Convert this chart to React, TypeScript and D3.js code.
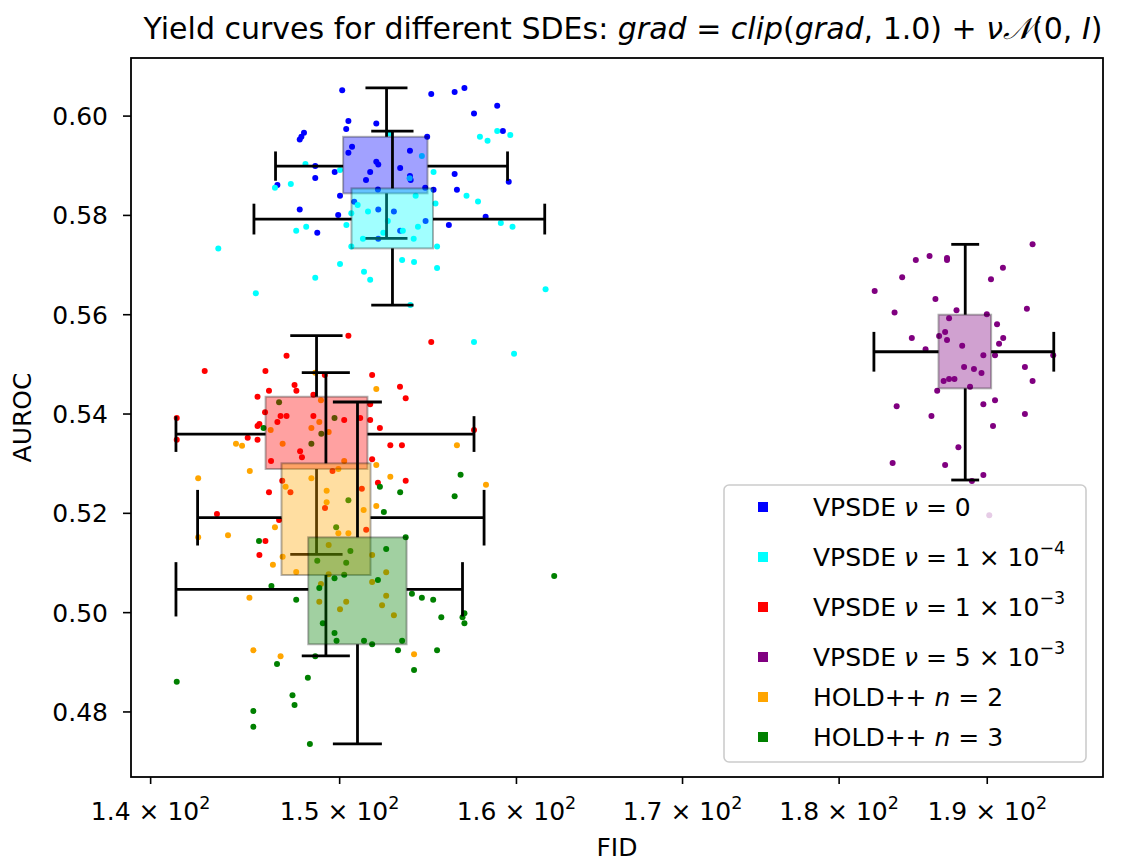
import React from 'react';
import * as d3 from 'd3';

// FID / AUROC samples
const bluePts: [number, number][] = [
  [150.14, 0.60523], [155.1, 0.60443], [156.43, 0.60483], [156.99, 0.60564], [158.88, 0.60207],
  [157.54, 0.60054], [150.48, 0.59899], [150.36, 0.59738], [152.02, 0.59853], [148.06, 0.59664],
  [147.92, 0.59583], [147.83, 0.59531], [154.87, 0.59583], [150.68, 0.59382], [150.48, 0.59261],
  [153.9, 0.59301], [152.02, 0.5908], [152.13, 0.59027], [148.67, 0.58993], [149.73, 0.58872],
  [151.68, 0.58872], [153.35, 0.58953], [153.9, 0.58792], [151.45, 0.58711], [156.43, 0.58832],
  [148.67, 0.58752], [146.63, 0.58611], [159.55, 0.58677], [150.02, 0.58395], [154.76, 0.58556],
  [155.23, 0.58516], [156.56, 0.58516], [150.8, 0.58275], [152.13, 0.58121], [153.0, 0.58081],
  [147.83, 0.58121], [149.92, 0.58007], [158.21, 0.57973], [154.78, 0.57886], [156.1, 0.57805],
  [148.78, 0.5765], [153.35, 0.57691], [152.13, 0.5753], [152.11, 0.58524], [159.21, 0.59698],
  [153.94, 0.58711],
];

const cyanPts: [number, number][] = [
  [152.78, 0.59652], [157.88, 0.59583], [158.32, 0.59503], [158.88, 0.59698], [159.64, 0.59617],
  [154.57, 0.59195], [148.14, 0.59034], [150.02, 0.58913], [155.23, 0.58872], [147.35, 0.58631],
  [146.5, 0.58556], [153.88, 0.58746], [154.22, 0.58395], [157.11, 0.58395], [157.77, 0.58282],
  [155.34, 0.58242], [150.99, 0.58208], [151.56, 0.58081], [150.64, 0.58041], [152.66, 0.57886],
  [150.37, 0.57805], [154.35, 0.57771], [153.5, 0.57691], [159.09, 0.57846], [159.77, 0.57771],
  [148.18, 0.57771], [147.64, 0.57691], [152.41, 0.5765], [151.28, 0.5753], [154.11, 0.5753],
  [150.64, 0.57376], [155.43, 0.57376], [143.5, 0.57336], [153.46, 0.57101], [154.13, 0.5706],
  [150.02, 0.5702], [155.43, 0.5694], [151.34, 0.56865], [151.68, 0.56704], [148.67, 0.56744],
  [145.48, 0.5643], [161.71, 0.56511], [153.92, 0.56195], [157.54, 0.5545], [159.86, 0.55214],
];

const redPts: [number, number][] = [
  [150.48, 0.55577], [155.1, 0.5545], [147.12, 0.55174], [142.79, 0.54866], [145.99, 0.54866],
  [147.55, 0.54584], [147.65, 0.54469], [146.18, 0.54469], [149.19, 0.54785], [151.79, 0.54785],
  [153.34, 0.5455], [153.66, 0.54316], [145.57, 0.54348], [148.57, 0.54389], [145.97, 0.54034],
  [146.8, 0.5396], [147.12, 0.5396], [148.57, 0.5396], [150.25, 0.53879], [151.13, 0.53919],
  [151.68, 0.53879], [151.68, 0.54195], [146.63, 0.53839], [145.67, 0.53799], [145.57, 0.53758],
  [152.22, 0.53718], [141.34, 0.53919], [141.34, 0.53483], [145.05, 0.53523], [145.57, 0.53483],
  [157.54, 0.53678], [152.8, 0.53369], [153.45, 0.53369], [147.85, 0.53249], [147.95, 0.53128],
  [146.29, 0.53054], [151.79, 0.53088], [146.89, 0.52657], [146.18, 0.52423], [147.33, 0.52423],
  [149.61, 0.52852], [152.11, 0.52617], [153.66, 0.52657], [151.22, 0.52496], [149.2, 0.52107],
  [143.43, 0.51986], [146.72, 0.51866], [151.46, 0.51671], [145.99, 0.51443], [145.67, 0.51161],
];

const purplePts: [number, number][] = [
  [193.17, 0.57417], [191.09, 0.56946], [190.26, 0.56712], [192.77, 0.5612], [190.68, 0.55806],
  [191.11, 0.5553], [190.82, 0.55415], [190.54, 0.55182], [192.63, 0.54946], [193.17, 0.54664],
  [189.73, 0.55182], [189.08, 0.54906], [189.6, 0.54826], [188.4, 0.54946], [188.27, 0.55375],
  [189.97, 0.56007], [187.88, 0.56088], [187.37, 0.55927], [187.23, 0.5549], [187.1, 0.55651],
  [186.69, 0.5557], [185.77, 0.55303], [184.84, 0.5553], [183.68, 0.56047], [182.35, 0.56477],
  [184.19, 0.56752], [185.11, 0.57101], [186.04, 0.57181], [187.23, 0.57141], [187.23, 0.57101],
  [186.44, 0.56316], [187.0, 0.54664], [187.37, 0.54705], [187.74, 0.54705], [188.81, 0.5455],
  [186.56, 0.54469], [183.82, 0.54155], [186.17, 0.5396], [189.73, 0.54195], [190.54, 0.54276],
  [192.63, 0.54], [190.4, 0.53758], [188.01, 0.53329], [187.1, 0.52973], [183.55, 0.53013],
  [189.73, 0.52772], [188.94, 0.52651], [194.63, 0.55182], [190.14, 0.5196],
];

const orangePts: [number, number][] = [
  [148.67, 0.54832], [152.02, 0.54503], [148.98, 0.54276], [146.27, 0.53678], [148.46, 0.53718],
  [148.89, 0.53839], [149.4, 0.53638], [146.91, 0.53403], [144.43, 0.53403], [144.75, 0.53362],
  [156.56, 0.53369], [150.25, 0.53054], [152.02, 0.52973], [149.93, 0.52893], [145.16, 0.52852],
  [142.45, 0.52705], [148.46, 0.52705], [147.07, 0.52537], [152.8, 0.52738], [158.23, 0.52577],
  [149.29, 0.52456], [149.29, 0.52222], [151.32, 0.52067], [152.02, 0.52148], [146.5, 0.51719],
  [149.93, 0.51598], [150.48, 0.51598], [142.45, 0.51517], [144.01, 0.51557], [146.91, 0.51127],
  [146.39, 0.50966], [147.64, 0.50819], [151.79, 0.51161], [149.4, 0.51362], [152.57, 0.50813],
  [149.4, 0.50772], [148.89, 0.50221], [150.36, 0.50221], [150.02, 0.50068], [152.34, 0.50148],
  [153.0, 0.49947], [152.57, 0.50342], [151.79, 0.50618], [148.98, 0.50577], [145.14, 0.50302],
  [145.35, 0.49243], [146.8, 0.49121], [154.13, 0.49162],
];

const greenPts: [number, number][] = [
  [146.72, 0.54236], [149.72, 0.53919], [149.0, 0.53603], [148.46, 0.53403], [145.89, 0.53718],
  [156.77, 0.52778], [152.22, 0.52537], [153.35, 0.52423], [156.43, 0.52343], [150.48, 0.52262],
  [152.44, 0.52027], [149.81, 0.51719], [145.65, 0.51443], [153.66, 0.51517], [152.57, 0.51282],
  [150.59, 0.51242], [148.78, 0.51047], [150.36, 0.51006], [149.72, 0.50692], [150.25, 0.50765],
  [162.22, 0.50738], [152.11, 0.50658], [148.89, 0.50497], [146.31, 0.50537], [147.64, 0.50261],
  [149.08, 0.49786], [149.72, 0.49591], [149.83, 0.49436], [151.34, 0.49436], [151.79, 0.49363],
  [153.46, 0.49436], [154.01, 0.50382], [154.57, 0.50302], [155.21, 0.50261], [155.67, 0.49907],
  [156.88, 0.49907], [156.99, 0.49988], [156.99, 0.49786], [153.23, 0.49243], [155.43, 0.49243],
  [154.13, 0.48846], [148.67, 0.49121], [146.61, 0.48967], [148.27, 0.48691], [141.34, 0.4861],
  [147.44, 0.48336], [147.55, 0.48141], [145.35, 0.4802], [145.35, 0.47704], [148.38, 0.47356],
];

// [min, q1, median, q3, max] on each axis, and cap half-lengths [FID, AUROC]
const blueBox = { x: [146.53, 150.19, 152.59, 154.89, 159.48], y: [0.57538, 0.58444, 0.58993, 0.59583, 0.6057], cap: [1.17, 0.00295] };
const cyanBox = { x: [145.38, 150.65, 152.92, 155.2, 161.66], y: [0.56195, 0.57336, 0.57926, 0.58544, 0.59698], cap: [1.18, 0.0031] };
const redBox = { x: [141.3, 146.0, 148.74, 151.53, 157.54], y: [0.51175, 0.52893, 0.53597, 0.54348, 0.55577], cap: [1.42, 0.0036] };
const purpleBox = { x: [182.3, 186.65, 188.48, 190.27, 194.67], y: [0.52671, 0.54517, 0.55254, 0.56, 0.57417], cap: [0.96, 0.004] };
const orangeBox = { x: [142.42, 146.85, 149.25, 151.7, 158.12], y: [0.49128, 0.50758, 0.51912, 0.53007, 0.54832], cap: [1.31, 0.0056] };
const greenBox = { x: [141.3, 148.29, 150.98, 153.71, 156.88], y: [0.47356, 0.49363, 0.5047, 0.51517, 0.54242], cap: [1.35, 0.00547] };

const colors = ['blue', 'cyan', 'red', 'purple', 'orange', 'green'];
const legendPrefix = ['VPSDE', 'VPSDE', 'VPSDE', 'VPSDE', 'HOLD++', 'HOLD++'];
const legendVar = ['ν', 'ν', 'ν', 'ν', 'n', 'n'];
const legendValue = ['0', '1 × 10', '1 × 10', '5 × 10', '2', '3'];
const legendExp = ['', '−4', '−3', '−3', '', ''];

const xTicks = [140, 150, 160, 170, 180, 190];
const yTicks = [0.48, 0.5, 0.52, 0.54, 0.56, 0.58, 0.6];

const W = 1127;
const H = 864;
const margin = { top: 58, right: 24, bottom: 87, left: 131 };
const FONT = 'DejaVu Sans, sans-serif';

export default function App() {
  const points = [bluePts, cyanPts, redPts, purplePts, orangePts, greenPts];
  const boxes = [blueBox, cyanBox, redBox, purpleBox, orangeBox, greenBox];

  const x = d3.scaleLog().domain([139.0, 198.2]).range([margin.left, W - margin.right]);
  const y = d3.scaleLinear().domain([0.4669, 0.6117]).range([H - margin.bottom, margin.top]);

  const x0 = margin.left;
  const x1 = W - margin.right;
  const y0 = H - margin.bottom;
  const y1 = margin.top;
  const cx = (x0 + x1) / 2;

  // legend layout
  const legX = 724;
  const legY = 485;
  const legW = 362;
  const rowH = legendExp.map(e => (e ? 50 : 40));
  const rowCenter: number[] = [];
  let acc = legY + 2;
  rowH.forEach(h => {
    rowCenter.push(acc + h - 20);
    acc += h;
  });
  const legH = acc - legY + 5;

  return (
    <div style={{ position: 'absolute', left: 0, top: 0 }}>
      <svg width={W} height={H} style={{ display: 'block', background: '#fff' }} fontFamily={FONT}>
        {/* scatter */}
        {points.map((pts, i) => (
          <g key={'s' + i} fill={colors[i]}>
            {pts.map((d, j) => (
              <circle key={j} cx={x(d[0])} cy={y(d[1])} r={3} />
            ))}
          </g>
        ))}

        {/* boxes with whiskers */}
        {boxes.map((b, i) => {
          const [xmin, xq1, xmed, xq3, xmax] = b.x;
          const [ymin, yq1, ymed, yq3, ymax] = b.y;
          const [cw, ch] = b.cap;
          return (
            <g key={'b' + i}>
              <rect
                x={x(xq1)}
                y={y(yq3)}
                width={x(xq3) - x(xq1)}
                height={y(yq1) - y(yq3)}
                fill={colors[i]}
                fillOpacity={0.37}
                stroke="#000"
                strokeOpacity={0.3}
                strokeWidth={2}
              />
              <g stroke="#000" strokeWidth={2.8} fill="none">
                <line x1={x(xmin)} x2={x(xq1)} y1={y(ymed)} y2={y(ymed)} />
                <line x1={x(xq3)} x2={x(xmax)} y1={y(ymed)} y2={y(ymed)} />
                <line x1={x(xmin)} x2={x(xmin)} y1={y(ymed - ch)} y2={y(ymed + ch)} />
                <line x1={x(xmax)} x2={x(xmax)} y1={y(ymed - ch)} y2={y(ymed + ch)} />
                <line x1={x(xmed)} x2={x(xmed)} y1={y(ymax)} y2={y(yq3)} />
                <line x1={x(xmed)} x2={x(xmed)} y1={y(yq1)} y2={y(ymin)} />
                <line x1={x(xmed - cw)} x2={x(xmed + cw)} y1={y(ymax)} y2={y(ymax)} />
                <line x1={x(xmed - cw)} x2={x(xmed + cw)} y1={y(ymin)} y2={y(ymin)} />
              </g>
            </g>
          );
        })}

        {/* axes frame */}
        <rect x={x0} y={y1} width={x1 - x0} height={y0 - y1} fill="none" stroke="#000" strokeWidth={1.8} />

        {/* x ticks */}
        {xTicks.map(t => (
          <g key={'xt' + t}>
            <line x1={x(t)} x2={x(t)} y1={y0} y2={y0 + 7} stroke="#000" strokeWidth={1.6} />
            <text x={x(t)} y={y0 + 43} textAnchor="middle" fontSize={25} fill="#000">
              {`${(t / 100).toFixed(1)} × 10`}
              <tspan fontSize={17.5} dy={-11}>2</tspan>
            </text>
          </g>
        ))}

        {/* y ticks */}
        {yTicks.map(t => (
          <g key={'yt' + t}>
            <line x1={x0 - 8} x2={x0} y1={y(t)} y2={y(t)} stroke="#000" strokeWidth={1.6} />
            <text x={108} y={y(t) + 9} textAnchor="end" fontSize={25} fill="#000">
              {t.toFixed(2)}
            </text>
          </g>
        ))}

        {/* axis labels */}
        <text x={cx} y={856} textAnchor="middle" fontSize={25} fill="#000">FID</text>
        <text
          transform={`translate(31, ${(y0 + y1) / 2}) rotate(-90)`}
          textAnchor="middle"
          fontSize={25}
          fill="#000"
        >
          AUROC
        </text>

        {/* title */}
        <text x={cx + 6} y={39} textAnchor="middle" fontSize={30} fill="#000">
          {'Yield curves for different SDEs: '}
          <tspan fontStyle="italic">grad</tspan>
          {' = '}
          <tspan fontStyle="italic">clip</tspan>
          {'('}
          <tspan fontStyle="italic">grad</tspan>
          {', 1.0) + '}
          <tspan fontStyle="italic">ν</tspan>
          <tspan fontFamily="DejaVu Serif, serif" fontStyle="italic">𝒩</tspan>
          {'(0, '}
          <tspan fontStyle="italic">I</tspan>
          {')'}
        </text>

        {/* legend */}
        <rect
          x={legX}
          y={legY}
          width={legW}
          height={legH}
          rx={5}
          fill="#fff"
          fillOpacity={0.8}
          stroke="#cccccc"
          strokeWidth={1.6}
        />
        {colors.map((c, i) => (
          <g key={'l' + i}>
            <rect x={758} y={rowCenter[i] - 5} width={10} height={10} fill={c} />
            <text x={813} y={rowCenter[i] + 9} fontSize={25} fill="#000">
              {legendPrefix[i] + ' '}
              <tspan fontStyle="italic">{legendVar[i]}</tspan>
              {' = ' + legendValue[i]}
              {legendExp[i] ? <tspan fontSize={17.5} dy={-12}>{legendExp[i]}</tspan> : null}
            </text>
          </g>
        ))}
      </svg>
    </div>
  );
}
